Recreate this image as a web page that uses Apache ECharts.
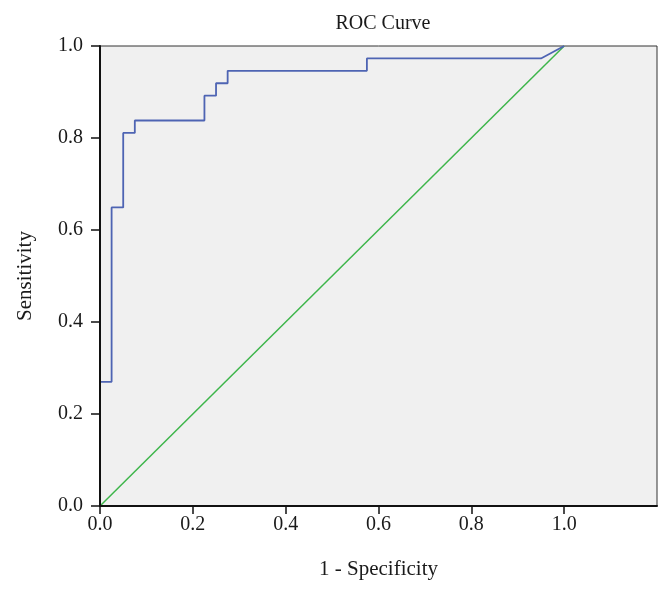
<!DOCTYPE html>
<html>
<head>
<meta charset="utf-8">
<script src="https://cdn.jsdelivr.net/npm/echarts@6/dist/echarts.min.js"></script>
<style>html,body{margin:0;padding:0;background:#fff}#c{width:671px;height:593px}</style>
</head>
<body>
<div id="c"></div>
<script>
// ROC curve points (1 - Specificity, Sensitivity)
var rocFpr = [0, 0, 0.025, 0.025, 0.05, 0.05, 0.075, 0.075, 0.225, 0.225, 0.25, 0.25, 0.275, 0.275, 0.575, 0.575, 0.95, 1.0];
var rocTpr = [0, 0.270, 0.270, 0.649, 0.649, 0.811, 0.811, 0.838, 0.838, 0.892, 0.892, 0.919, 0.919, 0.946, 0.946, 0.973, 0.973, 1.0];
// reference diagonal
var refFpr = [0, 1];
var refTpr = [0, 1];
var xTicks = [0, 0.2, 0.4, 0.6, 0.8, 1.0];
var yTicks = [0, 0.2, 0.4, 0.6, 0.8, 1.0];

var font = '"Liberation Serif", "DejaVu Serif", serif';
var chart = echarts.init(document.getElementById('c'), null, {renderer: 'canvas'});
chart.setOption({
  animation: false,
  backgroundColor: '#ffffff',
  title: {
    text: 'ROC Curve',
    left: 378, top: 9, textAlign: 'center',
    textStyle: {fontFamily: font, fontSize: 20, fontWeight: 'normal', color: '#1a1a1a'}
  },
  grid: {
    left: 100, right: 14, top: 46, bottom: 87,
    show: true, backgroundColor: '#f0f0f0', borderColor: '#333', borderWidth: 1
  },
  xAxis: {
    type: 'value', min: 0, max: 1.2, z: 10,
    name: '1 - Specificity', nameLocation: 'middle', nameGap: 53,
    nameTextStyle: {fontFamily: font, fontSize: 21, color: '#1a1a1a'},
    axisLine: {show: true, onZero: false, lineStyle: {color: '#111', width: 2}},
    axisTick: {show: true, length: 8, customValues: xTicks, lineStyle: {color: '#111', width: 1.5}},
    axisLabel: {customValues: xTicks, formatter: function (v) { return v.toFixed(1); }, margin: 9,
      fontFamily: font, fontSize: 20, color: '#1a1a1a'},
    splitLine: {show: false}
  },
  yAxis: {
    type: 'value', min: 0, max: 1.0, interval: 0.2, z: 10,
    name: 'Sensitivity', nameLocation: 'middle', nameGap: 64,
    nameTextStyle: {fontFamily: font, fontSize: 21, color: '#1a1a1a'},
    axisLine: {show: true, onZero: false, lineStyle: {color: '#111', width: 2}},
    axisTick: {show: true, length: 9, customValues: yTicks, lineStyle: {color: '#111', width: 1.5}},
    axisLabel: {customValues: yTicks, formatter: function (v) { return v.toFixed(1); }, margin: 17,
      fontFamily: font, fontSize: 20, color: '#1a1a1a'},
    splitLine: {show: false}
  },
  series: [
    {
      type: 'line', showSymbol: false, symbol: 'none',
      data: refFpr.map(function (x, i) { return [x, refTpr[i]]; }),
      lineStyle: {color: '#3db54a', width: 1.5}, z: 2
    },
    {
      type: 'line', showSymbol: false, symbol: 'none',
      data: rocFpr.map(function (x, i) { return [x, rocTpr[i]]; }),
      lineStyle: {color: '#4e64b3', width: 1.8}, z: 3
    }
  ]
});
</script>
</body>
</html>
